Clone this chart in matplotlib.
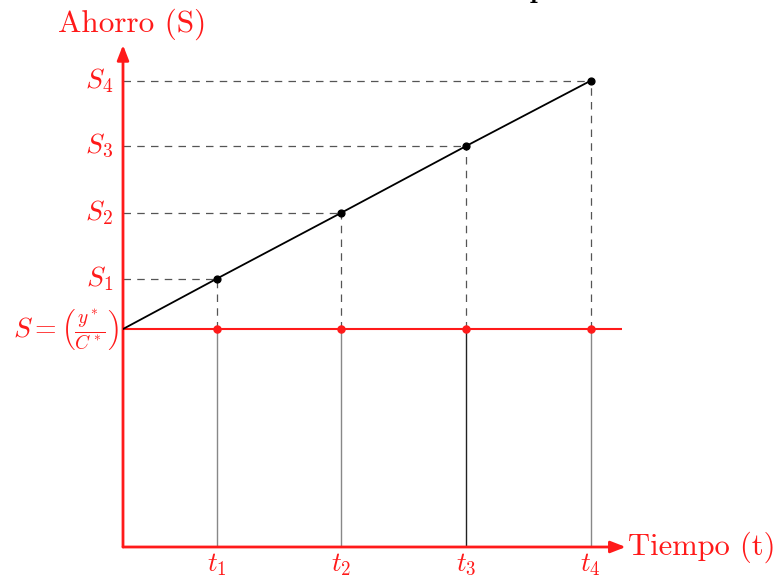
import matplotlib
matplotlib.use('Agg')
import matplotlib.pyplot as plt

plt.rcParams['font.family'] = 'serif'
plt.rcParams['font.serif'] = ['cmr10']
plt.rcParams['mathtext.fontset'] = 'cm'
plt.rcParams['axes.unicode_minus'] = False

# Datos
tiempos = [0.75, 1.75, 2.75, 3.75]
ahorros = [4.06, 5.06, 6.07, 7.06]
ahorro_base = 3.3
etiquetas_t = [r'$t_1$', r'$t_2$', r'$t_3$', r'$t_4$']
etiquetas_s = [r'$S_1$', r'$S_2$', r'$S_3$', r'$S_4$']
etiqueta_base = r'$S=\left(\frac{y^*}{C^*}\right)$'
colores_vert = ['#888888', '#888888', '#222222', '#888888']

ROJO = '#ff1a1a'
XMAX, YMAX = 4.0, 7.6

fig = plt.figure(figsize=(7.8, 5.77), dpi=100)
ax = fig.add_axes([123 / 780, 30 / 577, 499 / 780, 502 / 577])
ax.set_xlim(0, XMAX)
ax.set_ylim(0, YMAX)
ax.axis('off')

# Ejes con flechas
flecha = dict(arrowstyle='-|>,head_length=0.9,head_width=0.35',
              color=ROJO, lw=2, shrinkA=0, shrinkB=0)
ax.annotate('', xy=(XMAX + 0.03, 0), xytext=(0, 0), arrowprops=flecha,
            annotation_clip=False)
ax.annotate('', xy=(0, YMAX), xytext=(0, 0), arrowprops=flecha,
            annotation_clip=False)

# Nivel base
ax.plot([0, XMAX], [ahorro_base, ahorro_base], color=ROJO, lw=1.5, zorder=3)

# Recta del ahorro
ax.plot([0] + tiempos, [ahorro_base] + ahorros, color='black', lw=1.3, zorder=4)
ax.scatter(tiempos, ahorros, color='black', s=24, zorder=5)
ax.scatter(tiempos, [ahorro_base] * 4, color=ROJO, s=26, zorder=5)

for t, s, c in zip(tiempos, ahorros, colores_vert):
    ax.plot([t, t], [0, ahorro_base], color=c, lw=1.0, zorder=2)
    ax.plot([t, t], [ahorro_base, s], color='#555555', lw=0.9,
            ls=(0, (6, 5)), zorder=2)
    ax.plot([0, t], [s, s], color='#555555', lw=0.9,
            ls=(0, (6, 5)), zorder=2)

# Etiquetas
for t, lab in zip(tiempos, etiquetas_t):
    ax.text(t, -0.06, lab, color=ROJO, fontsize=19.5, ha='center', va='top')
for s, lab in zip(ahorros, etiquetas_s):
    ax.text(-0.08, s, lab, color=ROJO, fontsize=20, ha='right', va='center')
ax.text(-0.03, ahorro_base, etiqueta_base, color=ROJO, fontsize=20,
        ha='right', va='center')

ax.text(0.07, YMAX + 0.32, 'Ahorro (S)', color=ROJO, fontsize=22.5,
        ha='center', va='center')
ax.text(XMAX + 0.05, 0, 'Tiempo (t)', color=ROJO, fontsize=22,
        ha='left', va='center')

# Titulo (recortado en la parte superior, como en el original)
fig.text(560 / 780, 1.006, r'$\mathbf{Ahorro\ en\ el\ tiempo}$', fontsize=20,
         ha='right', va='baseline')

fig.savefig('out.png', dpi=100)
